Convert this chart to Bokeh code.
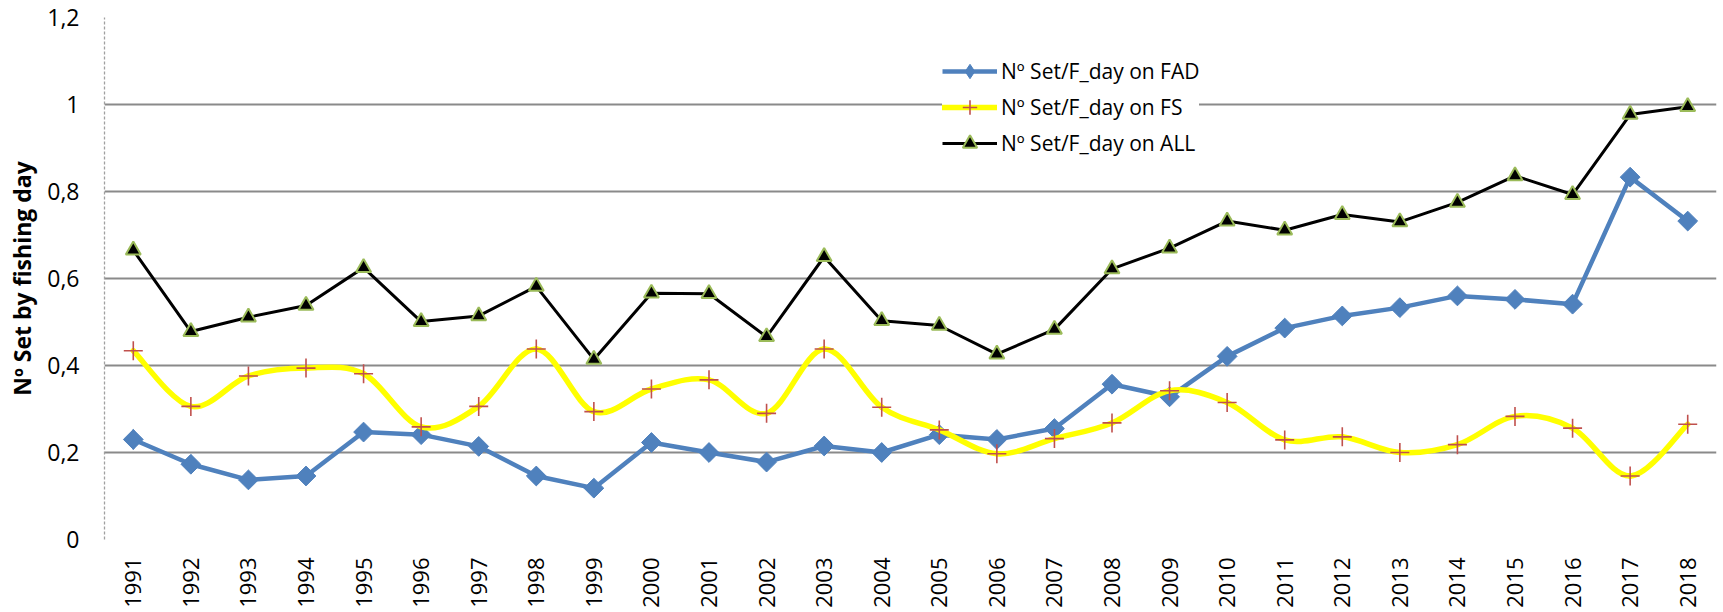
import math
from bokeh.plotting import figure
from bokeh.models import (ColumnDataSource, FixedTicker, Legend, LegendItem, Range1d)
from bokeh.embed import file_html
from bokeh.resources import INLINE

years = [1991, 1992, 1993, 1994, 1995, 1996, 1997, 1998, 1999, 2000, 2001, 2002, 2003, 2004,
         2005, 2006, 2007, 2008, 2009, 2010, 2011, 2012, 2013, 2014, 2015, 2016, 2017, 2018]
fad = [0.230, 0.173, 0.137, 0.146, 0.247, 0.241, 0.214, 0.146, 0.118, 0.223, 0.200, 0.178, 0.215, 0.200,
       0.241, 0.230, 0.255, 0.357, 0.328, 0.421, 0.486, 0.514, 0.533, 0.560, 0.552, 0.541, 0.833, 0.732]
fs = [0.434, 0.306, 0.376, 0.394, 0.381, 0.259, 0.306, 0.438, 0.294, 0.346, 0.367, 0.290, 0.438, 0.304,
      0.252, 0.197, 0.232, 0.268, 0.342, 0.315, 0.229, 0.236, 0.200, 0.218, 0.283, 0.256, 0.146, 0.265]
allv = [0.665, 0.478, 0.511, 0.538, 0.625, 0.501, 0.514, 0.582, 0.414, 0.566, 0.565, 0.466, 0.650, 0.503,
        0.492, 0.426, 0.483, 0.622, 0.670, 0.732, 0.711, 0.747, 0.730, 0.775, 0.836, 0.793, 0.977, 0.995]
y_ticks = [0, 0.2, 0.4, 0.6, 0.8, 1.0, 1.2]
y_tick_labels = ["0", "0,2", "0,4", "0,6", "0,8", "1", "1,2"]
series_labels = ["Nº Set/F_day on FAD", "Nº Set/F_day on FS", "Nº Set/F_day on ALL"]
y_title = "Nº Set by fishing day"

FONT = "Open Sans"

p = figure(width=1723, height=612, output_backend="svg", toolbar_location=None,
           x_range=Range1d(years[0] - 0.5, years[-1] + 0.5), y_range=Range1d(0, 1.2),
           min_border_left=104, min_border_right=7, min_border_top=17, min_border_bottom=73)
p.outline_line_color = None
p.xgrid.grid_line_color = None
p.ygrid.grid_line_color = "#8a8a8a"
p.ygrid.grid_line_width = 1.8

p.xaxis.ticker = FixedTicker(ticks=years)
p.xaxis.major_label_orientation = math.pi / 2
p.xaxis.major_label_text_font = FONT
p.xaxis.major_label_text_font_size = "22px"
p.xaxis.major_label_text_color = "black"
p.xaxis.major_label_standoff = 18
p.xaxis.major_tick_out = 0
p.xaxis.major_tick_in = 0
p.xaxis.minor_tick_out = 0
p.xaxis.minor_tick_in = 0
p.xaxis.axis_line_color = None

p.yaxis.ticker = FixedTicker(ticks=y_ticks)
p.yaxis.major_label_overrides = {t: l for t, l in zip(y_ticks, y_tick_labels)}
p.yaxis.major_label_text_font = FONT
p.yaxis.major_label_text_font_size = "23px"
p.yaxis.major_label_text_color = "black"
p.yaxis.major_label_standoff = 25
p.yaxis.major_tick_out = 0
p.yaxis.major_tick_in = 0
p.yaxis.minor_tick_out = 0
p.yaxis.minor_tick_in = 0
p.yaxis.axis_line_color = "#a0a0a0"
p.yaxis.axis_line_dash = "3 2"
p.yaxis.axis_line_width = 1.3
p.yaxis.axis_label = y_title
p.yaxis.axis_label_text_font = FONT
p.yaxis.axis_label_text_font_style = "bold"
p.yaxis.axis_label_text_font_size = "23px"
p.yaxis.axis_label_text_color = "black"
p.yaxis.axis_label_standoff = 6

# FAD series
fad_src = ColumnDataSource(dict(x=years, y=fad))
fad_line = p.line("x", "y", source=fad_src, line_color="#4F81BD", line_width=4.5)
fad_pts = p.scatter("x", "y", source=fad_src, marker="square", angle=math.pi / 4, size=14,
                    fill_color="#4F81BD", line_color="#4F81BD", line_width=1)
# diamond-shaped glyph for the legend sample (sits inside the first FAD marker)
fad_key_src = ColumnDataSource(dict(x=years[:1], y=fad[:1]))
fad_key = p.scatter("x", "y", source=fad_key_src, marker="diamond", size=20,
                    fill_color="#4F81BD", line_color="#4F81BD", line_width=1)

# FS series: smoothed line (Catmull-Rom as cubic Bezier segments)
n = len(years)
bx0, by0, bx1, by1, cx0, cy0, cx1, cy1 = [], [], [], [], [], [], [], []
for i in range(n - 1):
    im1 = max(i - 1, 0)
    ip2 = min(i + 2, n - 1)
    bx0.append(years[i]); by0.append(fs[i])
    bx1.append(years[i + 1]); by1.append(fs[i + 1])
    cx0.append(years[i] + (years[i + 1] - years[im1]) / 6)
    cy0.append(fs[i] + (fs[i + 1] - fs[im1]) / 6)
    cx1.append(years[i + 1] - (years[ip2] - years[i]) / 6)
    cy1.append(fs[i + 1] - (fs[ip2] - fs[i]) / 6)
bez_src = ColumnDataSource(dict(x0=bx0, y0=by0, x1=bx1, y1=by1, cx0=cx0, cy0=cy0, cx1=cx1, cy1=cy1))
fs_line = p.bezier("x0", "y0", "x1", "y1", "cx0", "cy0", "cx1", "cy1", source=bez_src,
                   line_color="#FFFF00", line_width=5.5, line_cap="round")
fs_src = ColumnDataSource(dict(x=years, y=fs))
fs_pts = p.scatter("x", "y", source=fs_src, marker="cross", size=19,
                   line_color="#C0504D", line_width=1.6)

# ALL series
all_src = ColumnDataSource(dict(x=years, y=allv))
all_line = p.line("x", "y", source=all_src, line_color="black", line_width=3)
all_pts = p.scatter("x", "y", source=all_src, marker="triangle", size=15,
                    fill_color="black", line_color="#9BBB59", line_width=2)

legend = Legend(items=[
    LegendItem(label=series_labels[0], renderers=[fad_line, fad_key]),
    LegendItem(label=series_labels[1], renderers=[fs_line, fs_pts]),
    LegendItem(label=series_labels[2], renderers=[all_line, all_pts]),
], location=(838, 378), background_fill_color="white", background_fill_alpha=1.0,
    border_line_color=None, label_text_font=FONT, label_text_font_size="21px",
    label_text_color="black", glyph_width=55, glyph_height=36, label_height=36,
    label_standoff=4, padding=20, spacing=0, margin=0)
p.add_layout(legend)

open("out.html", "w").write(file_html(p, INLINE))
